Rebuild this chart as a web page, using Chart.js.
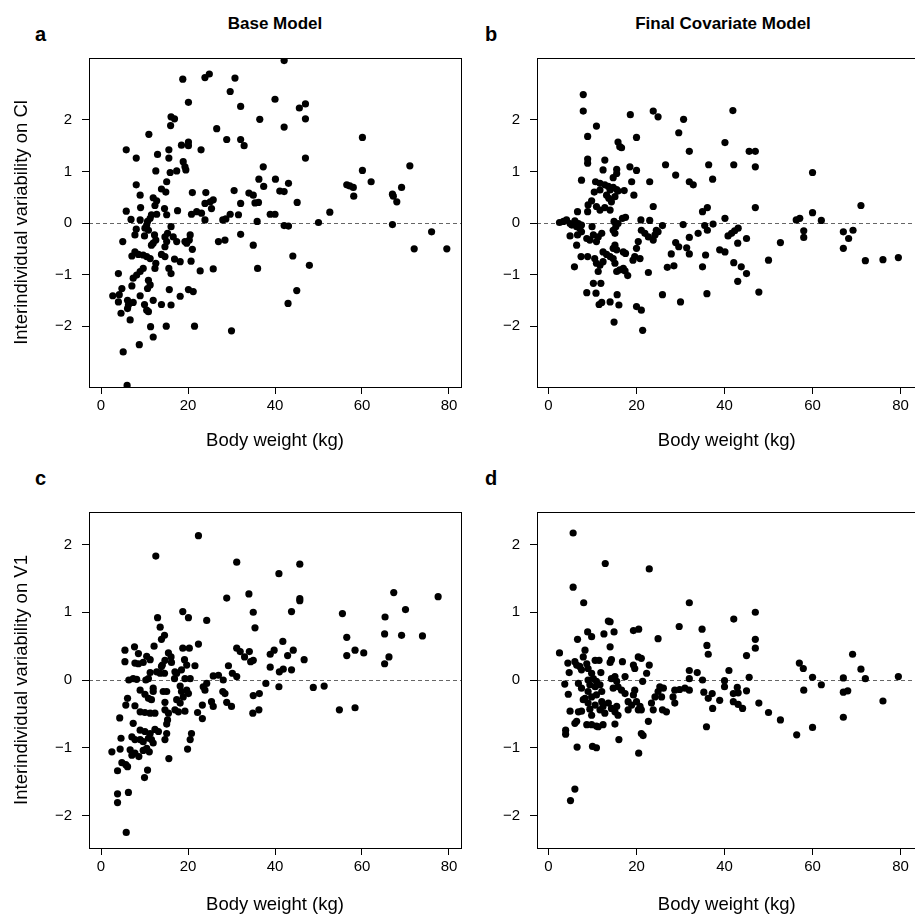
<!DOCTYPE html>
<html lang="en">
<head>
<meta charset="UTF-8">
<title>Interindividual variability vs body weight</title>
<script src="https://cdn.jsdelivr.net/npm/chart.js@4.4.1/dist/chart.umd.min.js"></script>
<style>
  html, body { margin: 0; padding: 0; background: #fff; overflow: hidden; }
  body { width: 915px; height: 923px; position: relative; font-family: "Liberation Sans", Arial, Helvetica, sans-serif; color: #000; }
  canvas { position: absolute; }
  .letter { position: absolute; font-size: 20px; font-weight: bold; line-height: 20px; }
  .head { position: absolute; width: 300px; text-align: center; font-size: 17px; font-weight: bold; line-height: 20px; }
</style>
</head>
<body>
<div class="letter" style="left:35px; top:24px;">a</div>
<div class="letter" style="left:485px; top:24px;">b</div>
<div class="letter" style="left:35px; top:468px;">c</div>
<div class="letter" style="left:485px; top:468px;">d</div>
<div class="head" style="left:125px; top:14px;">Base Model</div>
<div class="head" style="left:573px; top:14px;">Final Covariate Model</div>

<canvas id="chartA" width="470" height="460" style="left:0; top:0;"></canvas>
<canvas id="chartB" width="450" height="460" style="left:470px; top:0;"></canvas>
<canvas id="chartC" width="470" height="463" style="left:0; top:460px;"></canvas>
<canvas id="chartD" width="450" height="463" style="left:470px; top:460px;"></canvas>

<script>
// tick labels
const xTicks = [0, 20, 40, 60, 80];
const yTicks = [-2, -1, 0, 1, 2];
const xTitle = 'Body weight (kg)';
const yTitleCl = 'Interindividual variability on Cl';
const yTitleV1 = 'Interindividual variability on V1';

// panel a: base model, Cl
const wtA = [
  18.8, 23.9, 24.9, 20.1, 16.1, 16.9, 16.0, 11.0, 5.8, 8.1,
  13.0, 15.6, 15.6, 18.5, 20.1, 20.1, 23.0, 18.9, 19.3, 19.5,
  12.6, 15.9, 17.4, 15.1, 8.1, 13.9, 14.9, 9.0, 12.0, 12.8,
  21.0, 24.1, 12.4, 9.1, 5.8, 14.6, 23.9, 25.1, 25.8, 25.4,
  17.6, 20.8, 22.0, 23.1, 23.9, 6.9, 9.0, 11.6, 11.3, 12.8,
  15.1, 10.7, 10.5, 10.1, 10.9, 8.1, 7.8, 10.0, 5.0, 12.3,
  12.6, 12.0, 11.6, 16.1, 15.3, 14.7, 15.1, 14.7, 16.6, 17.4,
  19.3, 20.5, 20.3, 19.7, 21.0, 7.1, 7.8, 8.6, 9.7, 10.5,
  11.3, 13.9, 14.7, 16.9, 18.2, 20.7, 12.6, 12.4, 4.0, 9.7,
  9.0, 8.2, 7.4, 15.6, 16.1, 22.8, 25.8, 10.9, 11.3, 10.7,
  7.1, 4.8, 4.2, 2.7, 9.0, 12.0, 15.7, 18.2, 20.1, 21.2,
  4.0, 6.1, 7.4, 6.3, 6.1, 10.0, 10.5, 10.9, 13.9, 16.1,
  4.6, 6.7, 11.4, 15.0, 21.5, 12.0, 8.8, 5.1, 6.0,
  42.1, 30.8, 29.7, 40.0, 32.1, 45.6, 47.0, 36.5, 47.0, 42.1,
  26.6, 28.9, 32.1, 32.9, 47.0, 37.3, 36.3, 40.1, 43.1, 37.4,
  30.6, 34.0, 35.0, 41.1, 42.1, 32.1, 35.4, 36.2, 45.1, 52.6,
  29.7, 31.6, 28.0, 28.7, 38.9, 40.0, 35.9, 42.1, 43.1, 50.0,
  27.0, 28.5, 32.1, 35.0, 44.1, 47.9, 36.0, 45.0, 43.0, 30.0,
  60.1, 60.1, 71.0, 62.1, 56.5, 57.2, 58.0, 58.1, 69.1, 67.0,
  67.2, 68.0, 67.0, 76.0, 72.0, 79.5
];
const etaClBase = [
  2.79, 2.82, 2.89, 2.34, 2.06, 2.02, 1.89, 1.72, 1.42, 1.26,
  1.33, 1.42, 1.26, 1.51, 1.57, 1.50, 1.42, 1.19, 1.09, 1.03,
  1.01, 0.98, 1.01, 0.80, 0.74, 0.66, 0.60, 0.54, 0.49, 0.43,
  0.59, 0.59, 0.34, 0.30, 0.23, 0.28, 0.38, 0.41, 0.45, 0.28,
  0.24, 0.17, 0.22, 0.19, 0.06, 0.07, 0.06, 0.16, 0.09, 0.17,
  0.16, 0.03, -0.04, -0.10, -0.14, -0.12, -0.23, -0.25, -0.36, -0.23,
  -0.33, -0.39, -0.43, -0.07, -0.20, -0.27, -0.36, -0.46, -0.27, -0.36,
  -0.36, -0.23, -0.33, -0.39, -0.51, -0.64, -0.56, -0.61, -0.62, -0.65,
  -0.69, -0.61, -0.65, -0.70, -0.75, -0.74, -0.78, -0.88, -0.98, -0.88,
  -0.94, -1.01, -1.07, -0.88, -0.98, -0.93, -0.89, -1.11, -1.20, -1.27,
  -1.22, -1.27, -1.39, -1.41, -1.41, -1.50, -1.29, -1.42, -1.29, -1.33,
  -1.53, -1.50, -1.54, -1.59, -1.66, -1.58, -1.69, -1.72, -1.58, -1.59,
  -1.75, -1.88, -2.01, -2.00, -2.00, -2.21, -2.36, -2.50, -3.15,
  3.15, 2.81, 2.55, 2.40, 2.26, 2.23, 2.31, 2.01, 2.02, 1.86,
  1.83, 1.62, 1.62, 1.50, 1.26, 1.09, 0.85, 0.85, 0.77, 0.71,
  0.63, 0.58, 0.54, 0.62, 0.61, 0.38, 0.39, 0.40, 0.40, 0.21,
  0.17, 0.16, 0.06, 0.08, 0.17, 0.17, 0.03, -0.05, -0.06, 0.01,
  -0.36, -0.33, -0.22, -0.43, -0.64, -0.82, -0.88, -1.31, -1.56, -2.09,
  1.66, 1.02, 1.11, 0.80, 0.74, 0.72, 0.69, 0.52, 0.69, 0.56,
  0.52, 0.41, -0.03, -0.17, -0.50, -0.50
];

// panel b: final covariate model, Cl
const wtB = [
  7.9, 7.9, 10.9, 8.9, 20.0, 15.8, 16.2, 16.6, 18.6, 23.8,
  24.9, 8.9, 8.9, 12.8, 12.4, 15.5, 15.5, 14.7, 18.5, 20.0,
  7.5, 10.7, 11.7, 12.8, 13.6, 14.0, 14.7, 15.5, 15.8, 17.2,
  18.9, 23.0, 10.4, 11.7, 13.2, 13.7, 14.3, 15.1, 19.4, 9.8,
  9.0, 10.9, 11.7, 12.8, 14.0, 8.9, 6.6, 23.8, 2.5, 3.4,
  4.1, 4.9, 5.3, 6.0, 6.8, 6.4, 7.1, 7.5, 7.5, 6.6,
  4.9, 9.9, 10.2, 8.7, 9.4, 11.3, 12.1, 10.9, 6.4, 14.9,
  15.3, 15.8, 16.8, 17.5, 14.7, 15.1, 21.0, 23.0, 21.1, 21.9,
  22.7, 24.5, 24.2, 23.8, 24.9, 25.9, 20.4, 20.0, 15.1, 14.7,
  15.5, 12.4, 13.2, 14.0, 17.0, 17.5, 7.4, 8.9, 10.5, 10.9,
  11.7, 11.3, 12.4, 14.7, 15.1, 5.9, 19.6, 20.8, 19.2, 15.5,
  16.2, 17.0, 17.4, 18.0, 22.7, 10.2, 11.9, 8.7, 10.8, 11.5,
  12.1, 14.0, 15.6, 16.0, 20.0, 21.1, 14.9, 21.4,
  41.9, 30.7, 29.6, 40.1, 32.0, 45.6, 47.0, 26.6, 36.4, 42.1,
  47.0, 28.9, 37.3, 32.0, 32.9, 47.0, 35.0, 36.1, 40.1, 30.6,
  35.5, 36.1, 37.4, 34.0, 40.8, 41.6, 42.3, 43.1, 32.0, 28.9,
  29.6, 45.0, 43.0, 52.7, 31.4, 32.0, 27.9, 35.7, 38.9, 40.1,
  27.0, 28.5, 35.0, 42.1, 43.8, 45.0, 50.0, 43.0, 25.9, 30.0,
  36.0, 47.8,
  60.0, 56.3, 57.1, 60.0, 62.0, 58.0, 58.0, 71.0, 67.0, 68.2,
  69.2, 67.0, 72.0, 76.0, 79.5
];
const etaClFinal = [
  2.49, 2.17, 1.88, 1.68, 1.66, 1.57, 1.48, 1.46, 2.10, 2.17,
  2.06, 1.24, 1.16, 1.22, 1.03, 1.04, 0.96, 0.88, 1.09, 1.02,
  0.83, 0.80, 0.77, 0.74, 0.71, 0.64, 0.69, 0.65, 0.62, 0.63,
  0.80, 0.80, 0.60, 0.64, 0.54, 0.48, 0.41, 0.51, 0.54, 0.43,
  0.35, 0.32, 0.25, 0.30, 0.25, 0.22, 0.22, 0.32, 0.01, 0.03,
  0.06, -0.01, -0.04, 0.04, -0.01, -0.07, -0.10, -0.04, -0.17, -0.23,
  -0.25, -0.07, -0.23, -0.30, -0.33, -0.27, -0.20, -0.36, -0.43, 0.03,
  -0.07, -0.01, 0.09, 0.11, -0.14, -0.20, 0.06, 0.05, -0.14, -0.20,
  -0.27, -0.14, -0.23, -0.33, -0.17, -0.05, -0.36, -0.49, -0.43, -0.49,
  -0.52, -0.56, -0.61, -0.65, -0.56, -0.59, -0.65, -0.65, -0.69, -0.78,
  -0.82, -0.94, -0.75, -0.69, -0.78, -0.85, -0.65, -0.69, -0.72, -0.94,
  -0.91, -0.88, -0.93, -1.02, -0.96, -1.17, -1.17, -1.35, -1.36, -1.58,
  -1.54, -1.53, -1.39, -1.59, -1.62, -1.69, -1.92, -2.08,
  2.18, 2.01, 1.75, 1.56, 1.39, 1.39, 1.39, 1.13, 1.13, 1.13,
  1.09, 0.93, 0.85, 0.80, 0.74, 0.30, 0.22, 0.30, 0.09, -0.03,
  -0.05, -0.14, -0.02, -0.20, -0.25, -0.20, -0.15, -0.10, -0.28, -0.38,
  -0.46, -0.30, -0.39, -0.38, -0.48, -0.60, -0.60, -0.62, -0.52, -0.56,
  -0.86, -0.83, -0.85, -0.77, -0.85, -0.98, -0.72, -1.13, -1.39, -1.53,
  -1.37, -1.34,
  0.98, 0.06, 0.09, 0.20, 0.05, -0.15, -0.28, 0.34, -0.17, -0.30,
  -0.14, -0.49, -0.73, -0.71, -0.67
];

// panel c: base model, V1
const wtC = [
  22.4, 12.6, 18.8, 20.1, 13.0, 24.3, 13.6, 14.6, 13.9, 12.2,
  22.4, 5.5, 7.7, 8.6, 10.5, 11.3, 5.5, 7.8, 8.6, 9.7,
  15.5, 16.1, 14.7, 14.1, 16.2, 18.8, 20.3, 19.2, 19.7, 18.5,
  17.4, 21.6, 11.3, 10.9, 6.4, 7.4, 8.2, 10.3, 12.8, 13.6,
  14.6, 13.9, 17.0, 16.9, 19.3, 20.5, 25.8, 24.3, 23.5, 23.9,
  9.0, 12.0, 12.0, 14.3, 15.1, 18.2, 18.5, 19.7, 20.1, 18.9,
  10.1, 10.9, 11.6, 6.1, 5.7, 7.8, 14.7, 17.4, 18.2, 25.4,
  25.8, 23.3, 9.0, 10.1, 11.3, 12.4, 14.7, 15.5, 17.0, 17.8,
  19.3, 22.2, 23.3, 4.3, 7.4, 15.3, 15.1, 9.0, 10.1, 11.3,
  12.4, 13.2, 7.1, 7.8, 9.0, 9.7, 10.9, 11.6, 12.0, 4.6,
  14.7, 15.1, 20.8, 20.5, 19.9, 2.5, 4.4, 6.7, 7.1, 7.8,
  8.7, 9.7, 10.5, 11.1, 15.6, 4.8, 5.7, 6.1, 3.8, 10.7,
  10.0, 6.3, 3.8, 3.8, 5.8,
  31.2, 40.9, 45.7, 28.9, 34.0, 35.0, 43.8, 45.7, 45.7, 35.4,
  41.8, 31.2, 32.0, 33.0, 34.1, 35.0, 34.4, 38.9, 39.8, 44.2,
  42.9, 46.7, 38.9, 41.0, 41.9, 43.8, 29.3, 30.2, 31.2, 27.0,
  28.1, 37.9, 40.9, 48.8, 51.3, 28.0, 28.5, 35.0, 36.4, 28.9,
  30.0, 34.9, 36.3,
  67.3, 77.5, 70.0, 55.5, 65.3, 56.5, 65.2, 69.1, 73.9, 58.4,
  60.4, 56.5, 66.2, 65.2, 54.8, 58.4
];
const etaV1Base = [
  2.13, 1.83, 1.01, 0.92, 0.92, 0.88, 0.78, 0.66, 0.60, 0.50,
  0.53, 0.44, 0.49, 0.39, 0.35, 0.30, 0.27, 0.25, 0.24, 0.26,
  0.40, 0.34, 0.29, 0.22, 0.26, 0.47, 0.47, 0.30, 0.22, 0.15,
  0.10, 0.21, 0.11, 0.02, 0.00, 0.02, 0.01, 0.00, 0.12, 0.10,
  0.10, 0.20, 0.12, 0.02, 0.02, 0.02, 0.06, -0.05, -0.10, -0.15,
  -0.15, -0.12, -0.17, -0.17, -0.17, -0.09, -0.17, -0.15, -0.20, -0.25,
  -0.21, -0.27, -0.29, -0.27, -0.37, -0.38, -0.33, -0.29, -0.34, -0.32,
  -0.39, -0.37, -0.47, -0.48, -0.49, -0.49, -0.44, -0.49, -0.44, -0.47,
  -0.46, -0.48, -0.57, -0.56, -0.64, -0.59, -0.65, -0.74, -0.76, -0.79,
  -0.73, -0.76, -0.84, -0.88, -0.88, -0.91, -0.86, -0.88, -0.93, -0.86,
  -0.88, -0.79, -0.79, -0.88, -1.02, -1.06, -1.02, -1.03, -1.11, -1.08,
  -1.13, -1.04, -1.01, -1.06, -1.16, -1.22, -1.25, -1.28, -1.34, -1.33,
  -1.44, -1.66, -1.68, -1.81, -2.25,
  1.74, 1.57, 1.71, 1.21, 1.27, 1.00, 1.01, 1.20, 1.17, 0.77,
  0.57, 0.47, 0.42, 0.34, 0.42, 0.29, 0.27, 0.38, 0.44, 0.44,
  0.36, 0.30, 0.19, 0.12, 0.16, 0.15, 0.21, 0.10, 0.05, 0.07,
  0.00, -0.05, -0.10, -0.11, -0.09, -0.17, -0.20, -0.23, -0.20, -0.33,
  -0.39, -0.49, -0.44,
  1.29, 1.23, 1.04, 0.98, 0.93, 0.63, 0.68, 0.66, 0.65, 0.44,
  0.40, 0.36, 0.34, 0.24, -0.44, -0.41
];

// panel d: final covariate model, V1
const wtD = [
  5.6, 12.9, 22.9, 5.6, 8.0, 13.6, 14.0, 8.9, 9.8, 12.6,
  14.9, 19.3, 20.5, 24.9, 6.6, 2.5, 8.3, 7.9, 14.0, 4.4,
  6.0, 6.4, 7.1, 7.5, 4.7, 8.7, 9.0, 10.6, 11.5, 9.8,
  11.9, 14.3, 14.0, 16.8, 20.4, 21.1, 19.3, 19.6, 22.9, 22.3,
  3.7, 4.5, 6.8, 7.5, 9.0, 10.2, 10.9, 9.4, 10.6, 11.7,
  9.0, 8.3, 9.8, 10.9, 12.1, 14.3, 15.1, 15.5, 15.8, 14.7,
  16.6, 17.4, 17.4, 19.6, 19.3, 21.4, 7.9, 9.0, 10.6, 12.1,
  12.4, 11.7, 12.8, 13.6, 14.3, 15.1, 15.5, 15.8, 18.1, 18.9,
  20.0, 20.8, 4.9, 6.8, 7.5, 9.4, 9.8, 18.1, 20.4, 21.1,
  24.2, 24.9, 25.3, 26.1, 25.7, 25.9, 23.8, 23.4, 6.4, 6.0,
  8.7, 9.8, 10.9, 11.3, 12.4, 15.1, 22.7, 3.9, 3.9, 21.1,
  21.5, 16.0, 6.5, 10.0, 10.9, 20.5, 6.0, 5.0,
  32.0, 47.0, 42.1, 29.7, 34.9, 36.0, 36.3, 47.0, 47.0, 45.0,
  41.0, 32.0, 33.8, 32.0, 35.0, 45.6, 40.0, 40.0, 28.7, 29.8,
  31.0, 32.0, 28.3, 28.7, 35.3, 36.3, 37.2, 42.9, 43.1, 42.0,
  45.0, 38.9, 37.3, 42.0, 43.1, 44.1, 47.8, 50.0, 52.7, 26.8,
  35.9,
  69.1, 57.0, 57.9, 60.0, 71.0, 67.0, 72.0, 79.5, 62.0, 58.0,
  67.0, 68.0, 76.0, 67.0, 60.0, 56.4
];
const etaV1Final = [
  2.17, 1.72, 1.64, 1.37, 1.14, 0.87, 0.86, 0.71, 0.64, 0.68,
  0.71, 0.73, 0.75, 0.61, 0.60, 0.40, 0.44, 0.34, 0.49, 0.25,
  0.27, 0.22, 0.20, 0.15, 0.11, 0.24, 0.17, 0.29, 0.29, 0.10,
  0.11, 0.30, 0.26, 0.27, 0.34, 0.32, 0.22, 0.17, 0.22, 0.10,
  -0.06, -0.21, -0.05, -0.12, 0.00, 0.02, -0.02, -0.07, -0.10, -0.07,
  -0.17, -0.27, -0.25, -0.22, -0.17, 0.02, 0.05, -0.02, -0.10, -0.12,
  -0.15, -0.20, 0.05, -0.15, -0.22, -0.02, -0.29, -0.34, -0.37, -0.32,
  -0.39, -0.44, -0.49, -0.34, -0.42, -0.47, -0.39, -0.52, -0.32, -0.37,
  -0.32, -0.39, -0.46, -0.47, -0.46, -0.43, -0.52, -0.44, -0.44, -0.44,
  -0.25, -0.17, -0.10, -0.12, -0.25, -0.44, -0.44, -0.34, -0.61, -0.64,
  -0.66, -0.66, -0.68, -0.69, -0.66, -0.65, -0.61, -0.74, -0.80, -0.79,
  -0.82, -0.88, -0.99, -0.98, -1.00, -1.08, -1.61, -1.78,
  1.14, 1.00, 0.90, 0.79, 0.75, 0.51, 0.38, 0.60, 0.47, 0.36,
  0.14, 0.14, 0.11, 0.02, 0.00, 0.04, -0.01, -0.10, -0.15, -0.14,
  -0.12, -0.15, -0.25, -0.34, -0.18, -0.27, -0.20, -0.11, -0.19, -0.20,
  -0.16, -0.30, -0.42, -0.32, -0.36, -0.42, -0.34, -0.48, -0.59, -0.47,
  -0.69,
  0.38, 0.25, 0.17, 0.04, 0.16, 0.03, 0.02, 0.05, -0.07, -0.15,
  -0.18, -0.16, -0.31, -0.55, -0.70, -0.81
];

const FONT = '"Liberation Sans", Arial, Helvetica, sans-serif';

// box round the plot region + dashed reference line at zero
const framePlugin = {
  id: 'frame',
  beforeDatasetsDraw(chart) {
    const { ctx, chartArea: a, scales: { y } } = chart;
    const y0 = Math.round(y.getPixelForValue(0)) + 0.5;
    ctx.save();
    ctx.strokeStyle = '#666';
    ctx.lineWidth = 1;
    ctx.setLineDash([4, 3]);
    ctx.beginPath();
    ctx.moveTo(a.left, y0);
    ctx.lineTo(a.right, y0);
    ctx.stroke();
    ctx.restore();
  },
  afterDatasetsDraw(chart) {
    const { ctx, chartArea: a } = chart;
    ctx.save();
    ctx.strokeStyle = '#000';
    ctx.lineWidth = 1;
    ctx.strokeRect(Math.round(a.left) + 0.5, Math.round(a.top) + 0.5,
      Math.round(a.right - a.left), Math.round(a.bottom - a.top));
    ctx.restore();
  }
};

const minus = v => (v < 0 ? '\u2212' + Math.abs(v) : String(v));

function makePanel(id, wts, etas, o) {
  const pts = wts.map((w, i) => ({ x: w, y: etas[i] }));
  return new Chart(document.getElementById(id), {
    type: 'scatter',
    data: {
      datasets: [{
        data: pts,
        backgroundColor: '#000',
        borderWidth: 0,
        pointRadius: 3.6,
        pointHoverRadius: 3.6
      }]
    },
    options: {
      responsive: false,
      animation: false,
      events: [],
      layout: { padding: { top: o.padTop, right: o.padRight, left: 0, bottom: 0 } },
      plugins: { legend: { display: false }, tooltip: { enabled: false } },
      scales: {
        x: {
          type: 'linear',
          min: o.xMin, max: o.xMax,
          afterBuildTicks: s => { s.ticks = xTicks.map(v => ({ value: v })); },
          afterFit: s => { s.height = o.xAxisH; },
          border: { display: false },
          grid: { drawOnChartArea: false, drawTicks: true, tickLength: 7, color: '#000' },
          ticks: { color: '#000', padding: 3, maxRotation: 0, autoSkip: false, font: { family: FONT, size: 15 } },
          title: { display: true, text: xTitle, color: '#000', font: { family: FONT, size: 18.5 }, padding: { top: 0, bottom: o.xTitlePad } }
        },
        y: {
          type: 'linear',
          min: o.yMin, max: o.yMax,
          afterBuildTicks: s => { s.ticks = yTicks.map(v => ({ value: v })); },
          afterFit: s => { s.width = o.yAxisW; },
          border: { display: false },
          grid: { drawOnChartArea: false, drawTicks: true, tickLength: 7, color: '#000' },
          ticks: { color: '#000', padding: 10, autoSkip: false, callback: minus, font: { family: FONT, size: 15 } },
          title: { display: !!o.yTitle, text: o.yTitle || '', color: '#000', font: { family: FONT, size: 18.5 }, padding: { top: 11, bottom: 0 } }
        }
      }
    },
    plugins: [framePlugin]
  });
}

makePanel('chartA', wtA, etaClBase, {
  xMin: -2.76, xMax: 82.76, yMin: -3.18, yMax: 3.2,
  padTop: 58, padRight: 9, yAxisW: 89, xAxisH: 73, xTitlePad: 8, yTitle: yTitleCl
});
makePanel('chartB', wtB, etaClFinal, {
  xMin: -2.61, xMax: 83.6, yMin: -3.18, yMax: 3.2,
  padTop: 58, padRight: 3, yAxisW: 67, xAxisH: 73, xTitlePad: 8, yTitle: ''
});
makePanel('chartC', wtC, etaV1Base, {
  xMin: -2.76, xMax: 82.76, yMin: -2.48, yMax: 2.48,
  padTop: 52, padRight: 9, yAxisW: 89, xAxisH: 75, xTitlePad: 7, yTitle: yTitleV1
});
makePanel('chartD', wtD, etaV1Final, {
  xMin: -2.61, xMax: 83.6, yMin: -2.48, yMax: 2.48,
  padTop: 52, padRight: 3, yAxisW: 67, xAxisH: 75, xTitlePad: 7, yTitle: ''
});
</script>
</body>
</html>
